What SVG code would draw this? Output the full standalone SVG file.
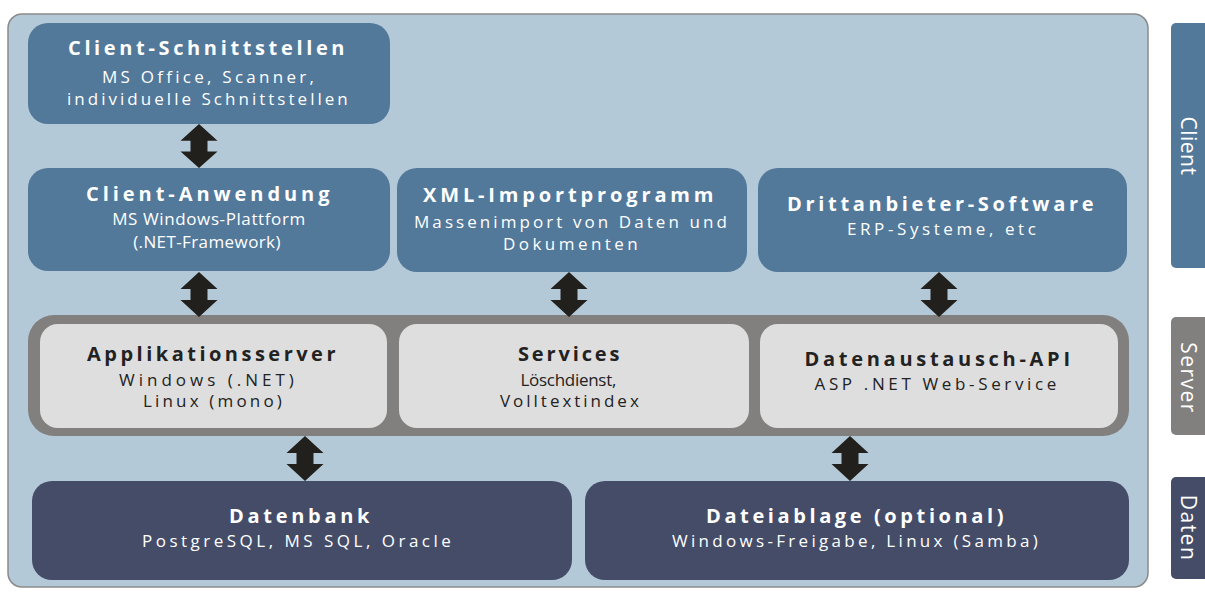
<svg xmlns="http://www.w3.org/2000/svg" width="1205" height="592" viewBox="0 0 1205 592">
<style>
  .panel { fill: #b4c9d8; stroke: #8a8a8a; stroke-width: 1.5; }
  .cbox { fill: #52789a; }
  .sband { fill: #82807e; }
  .sbox { fill: #dedede; }
  .dbox { fill: #444c68; }
  .arrow { fill: #22201c; }
  text { font-family: "Open Sans", "Noto Sans", "DejaVu Sans", sans-serif; text-anchor: middle; }
  .t { font-weight: bold; font-size: 20px; letter-spacing: 2.5px; }
  .s { font-size: 17px; letter-spacing: 1.2px; }
  .w { fill: #ffffff; }
  .k { fill: #222222; }
  .tab { font-family: "Open Sans", "DejaVu Sans", sans-serif; font-size: 21px; fill: #ffffff; }
</style>
<defs>
  <path id="dbl" class="arrow" d="M0,0 L18.5,17 L8.5,17 L8.5,28 L18.5,28 L0,45 L-18.5,28 L-8.5,28 L-8.5,17 L-18.5,17 Z"/>
</defs>
<rect id="panel" class="panel" x="8" y="14" width="1140" height="573" rx="14"/>

<g id="tabs">
  <g id="tab-client">
    <rect class="cbox" x="1171" y="23" width="50" height="245" rx="5"/>
    <text class="tab" transform="translate(1181,146) rotate(90)" letter-spacing="0.5">Client</text>
  </g>
  <g id="tab-server">
    <rect class="sband" x="1171" y="317" width="50" height="118" rx="5"/>
    <text class="tab" transform="translate(1181,378) rotate(90)" letter-spacing="1.5">Server</text>
  </g>
  <g id="tab-daten">
    <rect class="dbox" x="1171" y="477" width="50" height="102" rx="5"/>
    <text class="tab" transform="translate(1181,528) rotate(90)" letter-spacing="1.5">Daten</text>
  </g>
</g>

<g id="client-schnittstellen">
  <rect class="cbox" x="28" y="23" width="362" height="101" rx="20"/>
  <text class="t w" x="207.5" y="55" textLength="279" lengthAdjust="spacing">Client-Schnittstellen</text>
  <text class="s w" x="208.5" y="83" textLength="213" lengthAdjust="spacing">MS Office, Scanner,</text>
  <text class="s w" x="208" y="105" textLength="282" lengthAdjust="spacing">individuelle Schnittstellen</text>
</g>

<g id="client-anwendung">
  <rect class="cbox" x="28" y="168" width="362" height="103" rx="20"/>
  <text class="t w" x="209" y="201" textLength="246" lengthAdjust="spacing">Client-Anwendung</text>
  <text class="s w" x="209" y="225" style="letter-spacing:0.6px">MS Windows-Plattform</text>
  <text class="s w" x="207" y="248" style="letter-spacing:0.4px">(.NET-Framework)</text>
</g>

<g id="xml-import">
  <rect class="cbox" x="397" y="168" width="350" height="104" rx="20"/>
  <text class="t w" x="569.5" y="202" textLength="293" lengthAdjust="spacing">XML-Importprogramm</text>
  <text class="s w" x="571" y="228" textLength="314" lengthAdjust="spacing">Massenimport von Daten und</text>
  <text class="s w" x="571" y="250" textLength="136" lengthAdjust="spacing">Dokumenten</text>
</g>

<g id="drittanbieter">
  <rect class="cbox" x="758" y="168" width="369" height="104" rx="20"/>
  <text class="t w" x="941.5" y="211" textLength="309" lengthAdjust="spacing">Drittanbieter-Software</text>
  <text class="s w" x="942" y="235" textLength="190" lengthAdjust="spacing">ERP-Systeme, etc</text>
</g>

<g id="server-band">
  <rect class="sband" x="28" y="315" width="1101" height="121" rx="26"/>
</g>

<g id="applikationsserver">
  <rect class="sbox" x="40" y="324" width="347" height="104" rx="18"/>
  <text class="t k" x="212.5" y="361" textLength="251" lengthAdjust="spacing">Applikationsserver</text>
  <text class="s k" x="207" y="386" textLength="176" lengthAdjust="spacing">Windows (.NET)</text>
  <text class="s k" x="213" y="407" textLength="140" lengthAdjust="spacing">Linux (mono)</text>
</g>

<g id="services">
  <rect class="sbox" x="399" y="324" width="350" height="104" rx="18"/>
  <text class="t k" x="570" y="361" textLength="104" lengthAdjust="spacing">Services</text>
  <text class="s k" x="569" y="386" textLength="97" lengthAdjust="spacing">Löschdienst,</text>
  <text class="s k" x="570" y="407" textLength="140" lengthAdjust="spacing">Volltextindex</text>
</g>

<g id="datenaustausch">
  <rect class="sbox" x="760" y="324" width="358" height="104" rx="18"/>
  <text class="t k" x="938.5" y="366" textLength="268" lengthAdjust="spacing">Datenaustausch-API</text>
  <text class="s k" x="936" y="390" textLength="243" lengthAdjust="spacing">ASP .NET Web-Service</text>
</g>

<g id="datenbank">
  <rect class="dbox" x="32" y="481" width="540" height="99" rx="20"/>
  <text class="t w" x="300.5" y="523" textLength="143" lengthAdjust="spacing">Datenbank</text>
  <text class="s w" x="297" y="547" textLength="310" lengthAdjust="spacing">PostgreSQL, MS SQL, Oracle</text>
</g>

<g id="dateiablage">
  <rect class="dbox" x="585" y="481" width="544" height="99" rx="20"/>
  <text class="t w" x="856" y="523" textLength="300" lengthAdjust="spacing">Dateiablage (optional)</text>
  <text class="s w" x="855.5" y="547" textLength="367" lengthAdjust="spacing">Windows-Freigabe, Linux (Samba)</text>
</g>

<g id="connectors">
  <use href="#dbl" transform="translate(199,124) scale(1,0.978)"/>
  <use href="#dbl" transform="translate(199,272)"/>
  <use href="#dbl" transform="translate(569,272)"/>
  <use href="#dbl" transform="translate(939,272)"/>
  <use href="#dbl" transform="translate(305,436)"/>
  <use href="#dbl" transform="translate(850,436)"/>
</g>
</svg>
